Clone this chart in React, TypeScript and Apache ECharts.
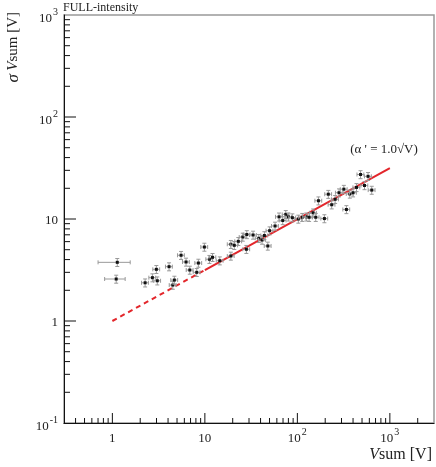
import React, { useEffect, useRef } from 'react';
import * as echarts from 'echarts';

// Measured points: Vsum [V] and sigma of Vsum [V]
const vsum = [1.13, 1.10, 2.26, 2.71, 2.99, 3.06, 4.10, 4.50, 4.68, 5.53, 6.26, 6.87, 8.17, 8.51, 9.88,
  11.2, 12.1, 14.5, 19.1, 19.1, 20.8, 23.0, 25.7, 28.4, 28.1, 33.2, 38.3, 41.5, 44.0, 47.9, 50.1, 57.4,
  63.4, 69.5, 74.9, 79.9, 88.3, 102.5, 113, 125, 134, 148, 158, 169, 196, 216, 235, 256, 282, 318, 339,
  369, 400, 436, 482, 532, 581, 637];
const sigma = [3.76, 2.58, 2.37, 2.66, 3.21, 2.48, 3.41, 2.25, 2.52, 4.41, 3.79, 3.16, 3.00, 3.70, 5.31,
  4.03, 4.21, 3.90, 4.34, 5.65, 5.52, 6.04, 6.66, 7.05, 5.05, 6.97, 6.47, 6.22, 6.89, 5.44, 7.68, 8.54,
  10.5, 9.67, 11.1, 10.5, 10.3, 10.0, 10.4, 10.5, 10.4, 11.5, 10.4, 15.1, 10.1, 17.5, 13.8, 15.6, 18.1, 19.6, 12.4,
  17.6, 18.1, 20.4, 27.3, 21.3, 26.2, 19.2];
// relative errors
const vRelErrFirst = [0.38, 0.25];
const vRelErr = 0.085;
const sigmaRelErr = 0.09;

// Fit line sigma = alpha * sqrt(V), alpha = 1.0
const fitDashed = [[1.0, 1.0], [10, 3.162]];
const fitSolid = [[10, 3.162], [1000, 31.62]];

// axes
const xMin = 0.3, xMax = 3000;
const yMin = 0.1, yMax = 1000;
const xMajorTicks = [1, 10, 100, 1000];
const xMinorTicks = [0.4, 0.5, 0.6, 0.7, 0.8, 0.9, 2, 3, 4, 5, 6, 7, 8, 9, 20, 30, 40, 50, 60, 70, 80, 90,
  200, 300, 400, 500, 600, 700, 800, 900, 2000];
const yMajorTicks = [1, 10, 100];
const yMinorTicks = [0.2, 0.3, 0.4, 0.5, 0.6, 0.7, 0.8, 0.9, 2, 3, 4, 5, 6, 7, 8, 9, 20, 30, 40, 50, 60, 70,
  80, 90, 200, 300, 400, 500, 600, 700, 800, 900];
const xTickLabels: Record<number, string> = { 0: '{b|1}', 1: '{b|10}', 2: '{b|10}{s|2}', 3: '{b|10}{s|3}' };
const yTickLabels: Record<number, string> = { [-1]: '{b|10}{s|-1}', 0: '1', 1: '10', 2: '{b|10}{s|2}', 3: '{b|10}{s|3}' };

const FONT = 'Liberation Serif';

function labelFmt(map: Record<number, string>) {
  return (v: number) => {
    const l = Math.log10(v);
    const r = Math.round(l);
    if (Math.abs(l - r) > 1e-6) return '';
    return map[r] !== undefined ? map[r] : '';
  };
}

export default function App() {
  const ref = useRef<HTMLDivElement>(null);
  useEffect(() => {
    if (!ref.current) return;
    const chart = echarts.init(ref.current, undefined, { renderer: 'svg' });
    const rich = {
      b: { fontSize: 13, fontFamily: FONT, color: '#222', verticalAlign: 'bottom' as const, lineHeight: 18 },
      s: { fontSize: 10, fontFamily: FONT, color: '#222', verticalAlign: 'top' as const, lineHeight: 18, padding: [0, 0, 0, 1] },
    };
    const points = vsum.map((v, i) => [v, sigma[i], i < vRelErrFirst.length ? vRelErrFirst[i] : vRelErr, sigmaRelErr]);
    const xTickData = [...xMajorTicks.map((t) => [t, 1]), ...xMinorTicks.map((t) => [t, 0])];
    const yTickData = [...yMajorTicks.map((t) => [t, 1]), ...yMinorTicks.map((t) => [t, 0])];
    const option: any = {
      animation: false,
      grid: { left: 64, top: 15, right: 2, bottom: 44, show: true, borderColor: '#999', borderWidth: 1.5 },
      xAxis: {
        type: 'log', logBase: 10, min: xMin, max: xMax,
        axisLine: { show: true, onZero: false, lineStyle: { color: '#111', width: 1 } },
        axisTick: { show: false }, splitLine: { show: false }, minorTick: { show: false },
        axisLabel: {
          formatter: labelFmt(xTickLabels), margin: 3, fontFamily: FONT, fontSize: 13, color: '#222',
          showMinLabel: false, showMaxLabel: false, rich,
        },
      },
      yAxis: {
        type: 'log', logBase: 10, min: yMin, max: yMax,
        axisLine: { show: true, onZero: false, lineStyle: { color: '#111', width: 1 } },
        axisTick: { show: false }, splitLine: { show: false }, minorTick: { show: false },
        axisLabel: { formatter: labelFmt(yTickLabels), margin: 6, fontFamily: FONT, fontSize: 13, color: '#222', rich },
      },
      series: [
        {
          type: 'custom', data: xTickData, clip: false, z: 5,
          renderItem: (_p: any, api: any) => {
            const p = api.coord([api.value(0), yMin]);
            const len = api.value(1) ? 10 : 5;
            return { type: 'line', shape: { x1: p[0], y1: p[1], x2: p[0], y2: p[1] - len }, style: { stroke: '#111', lineWidth: 1 } };
          },
        },
        {
          type: 'custom', data: yTickData, clip: false, z: 5,
          renderItem: (_p: any, api: any) => {
            const p = api.coord([xMin, api.value(0)]);
            const len = api.value(1) ? 12 : 6;
            return { type: 'line', shape: { x1: p[0], y1: p[1], x2: p[0] + len, y2: p[1] }, style: { stroke: '#111', lineWidth: 1 } };
          },
        },
        {
          type: 'line', data: fitDashed, showSymbol: false, symbol: 'none', z: 3,
          lineStyle: { color: '#e3262b', width: 2, type: [5, 4] },
        },
        {
          type: 'line', data: fitSolid, showSymbol: false, symbol: 'none', z: 3,
          lineStyle: { color: '#e3262b', width: 2 },
        },
        {
          type: 'custom', data: points, z: 4,
          renderItem: (_p: any, api: any) => {
            const v = api.value(0), s = api.value(1), ex = api.value(2), ey = api.value(3);
            const c = api.coord([v, s]);
            const xl = api.coord([v * (1 - ex), s]);
            const xr = api.coord([v * (1 + ex), s]);
            const yl = api.coord([v, s * (1 - ey)]);
            const yh = api.coord([v, s * (1 + ey)]);
            const st = { stroke: '#999', lineWidth: 1 };
            const cap = 2;
            return {
              type: 'group',
              children: [
                { type: 'line', shape: { x1: xl[0], y1: c[1], x2: xr[0], y2: c[1] }, style: st },
                { type: 'line', shape: { x1: xl[0], y1: c[1] - cap, x2: xl[0], y2: c[1] + cap }, style: st },
                { type: 'line', shape: { x1: xr[0], y1: c[1] - cap, x2: xr[0], y2: c[1] + cap }, style: st },
                { type: 'line', shape: { x1: c[0], y1: yl[1], x2: c[0], y2: yh[1] }, style: st },
                { type: 'line', shape: { x1: c[0] - cap, y1: yl[1], x2: c[0] + cap, y2: yl[1] }, style: st },
                { type: 'line', shape: { x1: c[0] - cap, y1: yh[1], x2: c[0] + cap, y2: yh[1] }, style: st },
                { type: 'rect', shape: { x: c[0] - 1.5, y: c[1] - 1.5, width: 3, height: 3 }, style: { fill: '#111' } },
              ],
            };
          },
        },
      ],
      graphic: [
        {
          type: 'text', left: 63, top: 1,
          style: { text: 'FULL-intensity', fontFamily: FONT, fontSize: 12, fill: '#222' },
        },
        {
          type: 'text', x: 384, y: 148,
          style: {
            text: "(α ' = 1.0√V)", fontFamily: FONT, fontSize: 13, fill: '#222', align: 'center', verticalAlign: 'middle',
          },
        },
        {
          type: 'text', x: 432, y: 453,
          style: {
            text: '{i|V}{a|sum [V]}', align: 'right', verticalAlign: 'middle',
            rich: {
              i: { fontFamily: FONT, fontSize: 16, fontStyle: 'italic', fill: '#222' },
              a: { fontFamily: FONT, fontSize: 16, fill: '#222' },
            },
          },
        },
        {
          type: 'text', x: 12, y: 12, rotation: Math.PI / 2,
          style: {
            text: '{g|σ} {i|V}{a|sum [V]}', align: 'right', verticalAlign: 'middle',
            rich: {
              g: { fontFamily: FONT, fontSize: 17, fontStyle: 'italic', fill: '#222' },
              i: { fontFamily: FONT, fontSize: 15, fontStyle: 'italic', fill: '#222' },
              a: { fontFamily: FONT, fontSize: 15, fill: '#222' },
            },
          },
        },
      ],
    };
    chart.setOption(option);
    return () => chart.dispose();
  }, []);
  return <div ref={ref} style={{ position: 'fixed', left: 0, top: 0, width: 436, height: 467 }} />;
}
